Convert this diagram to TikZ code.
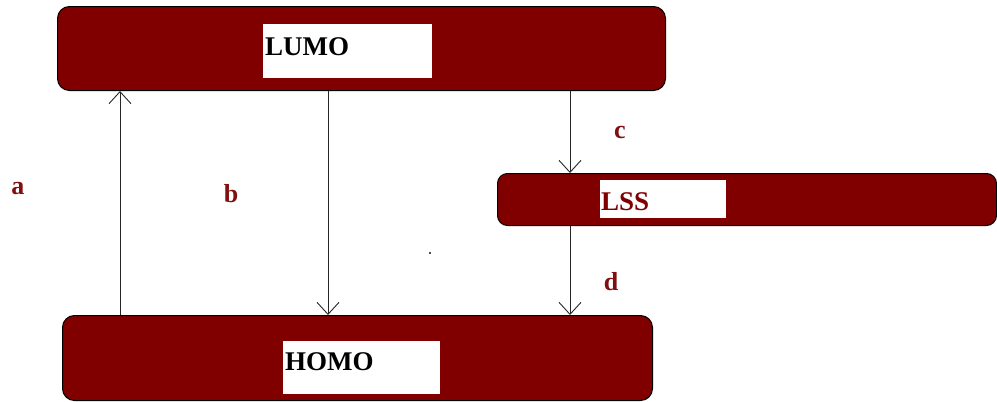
\documentclass[tikz,border=0pt]{standalone}
\usepackage{fontspec}
\setmainfont{Liberation Serif}
\usetikzlibrary{arrows.meta}
\definecolor{maroonbox}{RGB}{128,0,0}
\definecolor{labelred}{RGB}{128,16,16}
\begin{document}
\begin{tikzpicture}[x=1pt,y=-1pt,
  box/.style={draw=black,line width=1pt,fill=maroonbox,rounded corners=12pt,inner sep=0pt,anchor=north west},
  whitebox/.style={fill=white,draw=none,inner sep=0pt,anchor=north west},
  lvl/.style={font=\fontsize{27}{30}\selectfont\bfseries,inner sep=0pt,anchor=base west},
  lab/.style={font=\fontsize{26}{30}\selectfont\bfseries,text=labelred,inner sep=0pt,anchor=base},
  arr/.style={draw=black!85,line width=1pt,-{Straight Barb[length=12pt,width=22pt,line width=0.9pt]}}]
\useasboundingbox (0,0) rectangle (997,402);
% boxes
\node[box,minimum width=608pt,minimum height=84pt] (lumo) at (57,6) {};
\node[box,minimum width=590pt,minimum height=85pt] (homo) at (62,315) {};
\node[box,rounded corners=10pt,minimum width=499pt,minimum height=52pt] (lss) at (497,173) {};
% white label areas
\node[whitebox,minimum width=169pt,minimum height=54pt] (lumow) at (263,24) {};
\node[whitebox,minimum width=157pt,minimum height=53pt] (homow) at (283,341) {};
\node[whitebox,minimum width=126pt,minimum height=38pt] (lssw) at (600,180) {};
% texts
\node[lvl] (lumot) at (265,55) {LUMO};
\node[lvl] (homot) at (285,370) {HOMO};
\node[lvl,text=maroonbox] (lsst) at (601,210) {LSS};
% x positions of connectors
\coordinate (xa) at (120,0);
\coordinate (xb) at (328,0);
\coordinate (xc) at (570,0);
% connectors
\draw[arr] (homo.north -| xa) -- (lumo.south -| xa);
\draw[arr] (lumo.south -| xb) -- (homo.north -| xb);
\draw[arr] (lumo.south -| xc) -- (lss.north -| xc);
\draw[arr] (lss.south -| xc) -- (homo.north -| xc);
% labels
\node[lab] (la) at (18,194) {a};
\node[lab] (lb) at (231,202) {b};
\node[lab] (lc) at (620,138) {c};
\node[lab] (ld) at (611,290) {d};
% stray dot
\fill[black!70] (429,252) rectangle (431,254);
\end{tikzpicture}
\end{document}
